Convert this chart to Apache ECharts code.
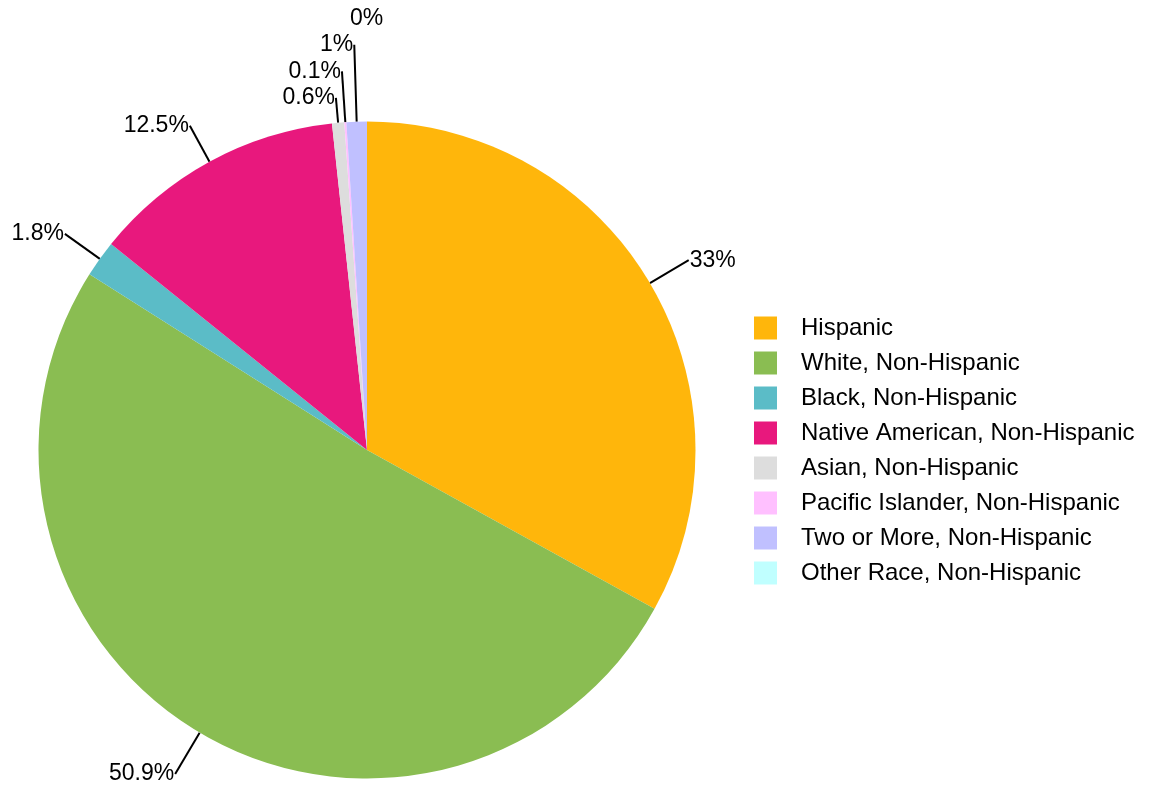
<!DOCTYPE html>
<html>
<head>
<meta charset="utf-8">
<title>Race / Ethnicity</title>
<script src="https://cdn.jsdelivr.net/npm/echarts@6/dist/echarts.min.js"></script>
<style>
  html, body { margin: 0; padding: 0; background: #ffffff; }
  #chart { width: 1156px; height: 793px; }
</style>
</head>
<body>
<div id="chart"></div>
<script>
// Population share by race / ethnicity (percent)
const categories = [
  'Hispanic',
  'White, Non-Hispanic',
  'Black, Non-Hispanic',
  'Native American, Non-Hispanic',
  'Asian, Non-Hispanic',
  'Pacific Islander, Non-Hispanic',
  'Two or More, Non-Hispanic',
  'Other Race, Non-Hispanic'
];
const percents = [33, 50.9, 1.8, 12.5, 0.6, 0.1, 1, 0];
const colors = ['#FFB60B', '#8ABD52', '#5BBCC7', '#E8187D', '#DDDDDD', '#FFC0FF', '#C0C0FF', '#C0FFFF'];

// Leader line length per slice, so the tiny slices near the top fan out
const leaderLengths = [45, 48, 43, 41, 25, 51, 77, 103];

const fontFamily = '"Liberation Sans", Arial, Helvetica, sans-serif';

const seriesData = categories.map((name, i) => {
  const item = {
    name: name,
    value: percents[i],
    itemStyle: { color: colors[i] },
    labelLine: { length: leaderLengths[i] }
  };
  if (percents[i] === 0) {
    // zero-width slice: label only, centred over the top of the pie
    item.labelLine.show = false;
    item.label = { distanceToLabelLine: -17 };
  }
  return item;
});

const chart = echarts.init(document.getElementById('chart'), null, { renderer: 'canvas' });
chart.setOption({
  animation: false,
  backgroundColor: '#ffffff',
  legend: {
    orient: 'vertical',
    left: 754,
    top: 316,
    padding: 0,
    itemWidth: 23,
    itemHeight: 23,
    itemGap: 11,
    icon: 'rect',
    data: categories,
    textStyle: {
      fontFamily: fontFamily,
      fontSize: 24,
      color: '#000000',
      padding: [0, 0, 0, 19]
    }
  },
  series: [{
    type: 'pie',
    center: [367, 450],
    radius: [0, 328.5],
    startAngle: 90,
    clockwise: true,
    avoidLabelOverlap: false,
    data: seriesData,
    label: {
      show: true,
      position: 'outside',
      formatter: '{c}%',
      fontFamily: fontFamily,
      fontSize: 23,
      color: '#000000',
      distanceToLabelLine: 1
    },
    labelLine: {
      show: true,
      length2: 0,
      smooth: false,
      lineStyle: { color: '#000000', width: 2 }
    },
    emphasis: { disabled: true }
  }]
});
</script>
</body>
</html>
